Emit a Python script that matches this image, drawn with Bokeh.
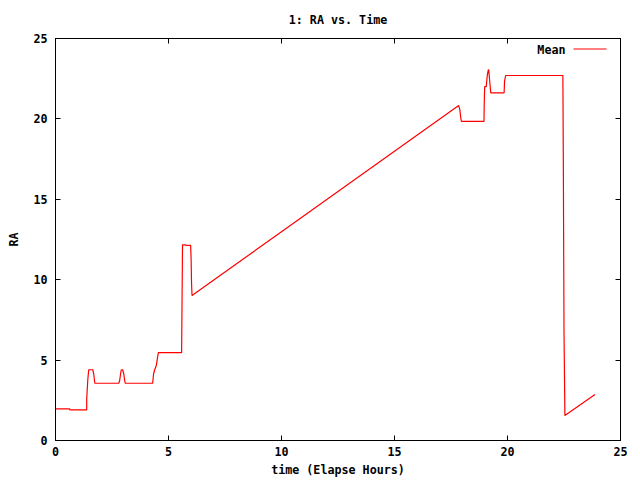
from bokeh.plotting import figure
from bokeh.models import Range1d, LinearAxis, FixedTicker, Label, Arrow, CustomLabelingPolicy
from bokeh.embed import file_html
from bokeh.resources import INLINE

# ---- data ----
time_hours = [0.00, 0.63, 0.63, 1.38, 1.38, 1.43, 1.47, 1.65, 1.69, 1.74,
              2.80, 2.84, 2.88, 2.91, 2.97, 3.02, 3.06, 3.09,
              4.30, 4.31, 4.34, 4.39, 4.46, 4.51, 4.55,
              5.58, 5.60, 5.62, 5.75, 5.77, 5.98, 6.00, 6.02, 6.04,
              10.00, 17.84, 17.89, 17.93, 17.96,
              18.96, 18.97, 18.99, 19.06, 19.08, 19.11, 19.15, 19.17, 19.19, 19.23, 19.26,
              19.85, 19.87, 19.92, 22.45, 22.47, 22.50, 22.54, 23.87]
ra_mean = [1.97, 1.97, 1.91, 1.91, 2.55, 3.80, 4.40, 4.40, 4.15, 3.56,
           3.56, 3.73, 4.15, 4.40, 4.40, 4.15, 3.73, 3.56,
           3.56, 3.73, 4.15, 4.40, 4.66, 5.12, 5.47,
           5.47, 8.80, 12.17, 12.17, 12.13, 12.13, 11.30, 9.78, 9.02,
           12.98, 20.83, 20.58, 20.07, 19.84,
           19.84, 20.94, 22.01, 22.01, 22.35, 22.76, 23.05, 23.05, 22.70, 22.08, 21.62,
           21.62, 22.35, 22.70, 22.70, 17.46, 6.88, 1.55, 2.86]
x_ticks = [0, 5, 10, 15, 20, 25]
y_ticks = [0, 5, 10, 15, 20, 25]
title_text = "1: RA vs. Time"
x_label = "time (Elapse Hours)"
y_label = "RA"
legend_label = "Mean"

FONT = "DejaVu Sans Mono"
FS = "11.7px"

W, H = 640, 480
BL, BR, BT, BB = 55, 20, 38, 40
FW = W - BL - BR
FH = H - BT - BB

p = figure(width=W, height=H, x_range=Range1d(0, 25), y_range=Range1d(0, 25),
           output_backend="svg", toolbar_location=None,
           min_border_left=BL, min_border_right=BR,
           min_border_top=BT, min_border_bottom=BB,
           title=title_text, background_fill_color="white",
           border_fill_color="white")

p.grid.visible = False
p.outline_line_color = "black"
p.outline_line_width = 1

p.title.align = "center"
p.title.text_font = FONT
p.title.text_font_size = FS
p.title.text_font_style = "bold"
p.title.text_color = "black"
p.title.standoff = 16

hide_all = "for (const i of indices) { indices.unset(i) }\nreturn indices"

def style_axis(ax, ticks, show_labels=True):
    ax.ticker = FixedTicker(ticks=ticks)
    ax.major_tick_in = 5
    ax.major_tick_out = 0
    ax.minor_tick_line_color = None
    ax.axis_line_color = "black"
    ax.major_tick_line_color = "black"
    ax.major_label_text_font = FONT
    ax.major_label_text_font_style = "bold"
    ax.major_label_text_color = "black"
    ax.axis_label_text_font = FONT
    ax.axis_label_text_font_size = FS
    ax.axis_label_text_font_style = "bold"
    ax.axis_label_text_color = "black"
    if show_labels:
        ax.major_label_text_font_size = FS
    else:
        ax.major_label_text_font_size = "1px"
        ax.major_label_standoff = 0
        ax.major_label_policy = CustomLabelingPolicy(code=hide_all)

xa = p.xaxis[0]
ya = p.yaxis[0]
style_axis(xa, x_ticks)
style_axis(ya, y_ticks)
xa.axis_label = x_label
ya.axis_label = y_label
xa.major_label_standoff = 6
xa.axis_label_standoff = 4
ya.major_label_standoff = 8
ya.axis_label_standoff = 9

top = LinearAxis()
style_axis(top, x_ticks, show_labels=False)
p.add_layout(top, "above")
right = LinearAxis()
style_axis(right, y_ticks, show_labels=False)
p.add_layout(right, "right")

p.line(time_hours, ra_mean, line_color="#ff0000", line_width=1.2)

# legend (gnuplot style: label then sample line)
p.add_layout(Label(x=FW - 55, y=FH - 11, x_units="screen", y_units="screen",
                   text=legend_label, text_align="right", text_baseline="middle",
                   text_font=FONT, text_font_size=FS, text_font_style="bold",
                   text_color="black"))
p.add_layout(Arrow(end=None, x_start=FW - 47, x_end=FW - 14,
                   y_start=FH - 10.5, y_end=FH - 10.5,
                   start_units="screen", end_units="screen",
                   line_color="#ff0000", line_width=1))

open("out.html", "w").write(file_html(p, INLINE))
